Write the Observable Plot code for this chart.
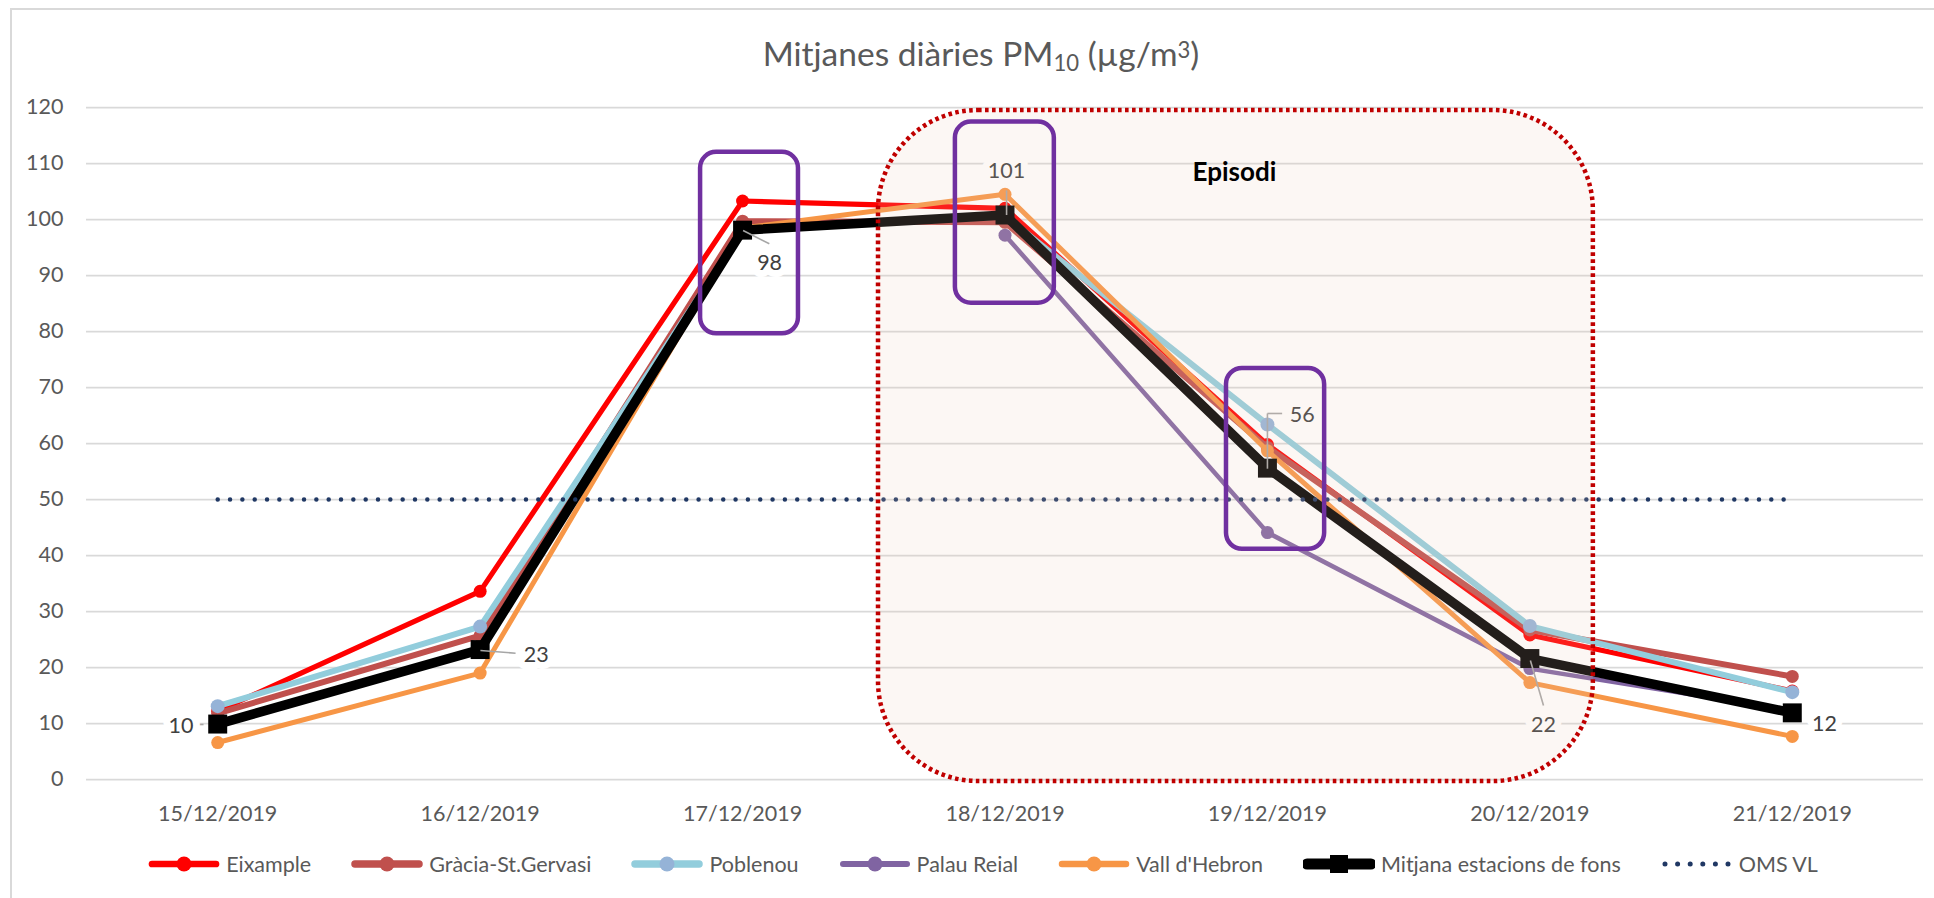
<!DOCTYPE html>
<html>
<head>
<meta charset="utf-8">
<script src="https://cdn.jsdelivr.net/npm/d3@7"></script>
<script src="https://cdn.jsdelivr.net/npm/@observablehq/plot@0.6"></script>
<style>
  html, body { margin: 0; padding: 0; background: #fff; }
  body { width: 1934px; height: 898px; position: relative; overflow: hidden; font-family: Lato, "Open Sans", sans-serif; }
  #frame { position: absolute; left: 10px; top: 8px; width: 1940px; height: 900px; border: 2px solid #d9d9d9; box-sizing: border-box; }
  #title { position: absolute; top: 37px; left: 0; width: 1962px; text-align: center; font-size: 33.5px; line-height: 1; color: #595959; white-space: nowrap; }
  #title .sub { font-size: 0.66em; position: relative; top: 0.24em; line-height: 0; }
  #title .sup { font-size: 0.66em; position: relative; top: -0.34em; line-height: 0; }
  #chart { position: absolute; left: 0; top: 80px; }
  #legend { position: absolute; top: 850px; left: 0; width: 1966px; display: flex; justify-content: center; align-items: center; gap: 40px; font-size: 21.5px; color: #595959; line-height: 28px; }
  .item { display: flex; align-items: center; gap: 6px; white-space: nowrap; }
  .item svg { display: block; }
</style>
</head>
<body>
<div id="frame"></div>
<div id="title">Mitjanes diàries PM<span class="sub">10</span> (µg/m<span class="sup">3</span>)</div>
<div id="chart"></div>
<div id="legend"></div>
<script>
// ---- Data ----
const dates = ["15/12/2019", "16/12/2019", "17/12/2019", "18/12/2019", "19/12/2019", "20/12/2019", "21/12/2019"];
const eixample   = [12.2, 33.6, 103.3, 102.0, 59.8, 25.8, 15.8];
const gracia     = [11.8, 25.7, 99.7, 99.5, 59.3, 26.7, 18.4];
const poblenou   = [13.1, 27.3, 98.0, 100.6, 63.4, 27.4, 15.6];
const palauReial = [null, null, null, 97.2, 44.1, 19.8, 12.3];
const vallHebron = [6.6, 19.0, 98.5, 104.5, 58.7, 17.3, 7.7];
const mitjana    = [9.9, 23.2, 98.1, 100.8, 55.6, 21.6, 11.9];
const omsVL      = [50, 50, 50, 50, 50, 50, 50];
const seriesNames = ["Eixample", "Gràcia-St.Gervasi", "Poblenou", "Palau Reial", "Vall d'Hebron", "Mitjana estacions de fons", "OMS VL"];
const yTicks = [0, 10, 20, 30, 40, 50, 60, 70, 80, 90, 100, 110, 120];
const episodeLabel = "Episodi";

// ---- Styles (kept apart from the data) ----
const series = [
  {name: seriesNames[0], values: eixample,   line: "#ff0000", marker: "#ff0000", width: 5.2, r: 6.5, symbol: "circle"},
  {name: seriesNames[1], values: gracia,     line: "#c0504d", marker: "#c0504d", width: 6,   r: 6.5, symbol: "circle"},
  {name: seriesNames[2], values: poblenou,   line: "#92cddc", marker: "#95b3d7", width: 6,   r: 7,   symbol: "circle"},
  {name: seriesNames[3], values: palauReial, line: "#8064a2", marker: "#8064a2", width: 4.5, r: 6.5, symbol: "circle"},
  {name: seriesNames[4], values: vallHebron, line: "#f79646", marker: "#f79646", width: 5,   r: 6.5, symbol: "circle"},
  {name: seriesNames[5], values: mitjana,    line: "#000000", marker: "#000000", width: 9.5, r: 10.7, symbol: "square"}
];
const oms = {name: seriesNames[6], values: omsVL, line: "#203864", width: 4.5};

const rows = (vals) => vals.map((v, i) => ({i, v}));

// annotation geometry in data units (x = category index, y = µg/m3)
const episode = {x1: 2.518, x2: 5.242, y1: -0.36, y2: 119.46};
const episodeText = {x: 3.874, y: 108.4};
const highlightBoxes = [
  {x1: 1.840, x2: 2.213, y1: 79.6, y2: 112.0},
  {x1: 2.811, x2: 3.188, y1: 85.05, y2: 117.4},
  {x1: 3.844, x2: 4.218, y1: 41.1, y2: 73.4}
];
const labelPos = [
  {x: -0.140, y: 9.46}, {x: 1.214, y: 22.27}, {x: 2.103, y: 92.14}, {x: 3.006, y: 108.6},
  {x: 4.133, y: 65.0}, {x: 5.052, y: 9.64}, {x: 6.123, y: 9.82}
];
const leaders = [
  {x1: -0.098, y1: 9.82, x2: -0.054, y2: 9.82},
  {x1: 1.001, y1: 23.04, x2: 1.135, y2: 22.55},
  {x1: 2.002, y1: 98.04, x2: 2.102, y2: 95.66},
  {x1: 3.006, y1: 100.8, x2: 3.006, y2: 105.2},
  {x1: 4.0, y1: 55.5, x2: 4.0, y2: 65.36},
  {x1: 4.0, y1: 65.36, x2: 4.056, y2: 65.36},
  {x1: 5.002, y1: 21.25, x2: 5.052, y2: 13.21}
];
const labelData = mitjana.map((v, i) => ({...labelPos[i], text: d3.format(".0f")(v)}));

const marks = [
  Plot.ruleY(yTicks, {stroke: "#d9d9d9", strokeWidth: 1.75})
];
for (const s of series) {
  const data = rows(s.values);
  marks.push(Plot.line(data, {x: "i", y: "v", stroke: s.line, strokeWidth: s.width, strokeLinejoin: "round", strokeLinecap: "round"}));
  marks.push(Plot.dot(data, {x: "i", y: "v", r: s.r, symbol: s.symbol, fill: s.marker, stroke: "none"}));
}
marks.push(Plot.line(rows(oms.values), {x: "i", y: "v", stroke: oms.line, strokeWidth: oms.width, strokeDasharray: "0 12.33", strokeLinecap: "round"}));
marks.push(Plot.link(leaders, {x1: "x1", y1: "y1", x2: "x2", y2: "y2", stroke: "#a6a6a6", strokeWidth: 1.6}));
marks.push(Plot.text(labelData, {x: "x", y: "y", text: "text", fill: "#404040", stroke: "white", strokeWidth: 14, strokeLinejoin: "round", fontSize: 21.5}));
marks.push(Plot.rect([episode], {x1: "x1", x2: "x2", y1: "y1", y2: "y2", rx: 100, fill: "#e8c9b4", fillOpacity: 0.15, stroke: "#c00000", strokeWidth: 4.5, strokeDasharray: "3.6 3.4"}));
marks.push(Plot.text([episodeText], {x: "x", y: "y", text: () => episodeLabel, fontWeight: "bold", fill: "#000", fontSize: 26}));
marks.push(Plot.rect(highlightBoxes, {x1: "x1", x2: "x2", y1: "y1", y2: "y2", rx: 16, fill: "none", stroke: "#7030a0", strokeWidth: 4.5}));

const chart = Plot.plot({
  width: 1934,
  height: 770,
  marginLeft: 86,
  marginRight: 11,
  marginTop: 27,
  marginBottom: 71,
  x: {type: "linear", domain: [-0.5, 6.5], ticks: dates.map((d, i) => i), tickFormat: (i) => dates[i], tickSize: 0, tickPadding: 26, label: null},
  y: {domain: [0, 120], ticks: yTicks, tickSize: 0, tickPadding: 23, label: null},
  style: {fontFamily: "Lato, 'Open Sans', sans-serif", fontSize: "21.5px", color: "#595959", background: "transparent", overflow: "visible"},
  marks
});
document.getElementById("chart").append(chart);

// ---- Legend (HTML, below the SVG) ----
function swatch(s) {
  let inner;
  if (s.symbol === undefined) {
    inner = `<line x1="4" x2="68" y1="12" y2="12" stroke="${s.line}" stroke-width="5" stroke-dasharray="0 12.6" stroke-linecap="round"/>`;
  } else {
    const w = s.symbol === "square" ? 11 : Math.max(s.width + 1.5, 5.5);
    inner = `<line x1="4" x2="68" y1="12" y2="12" stroke="${s.line}" stroke-width="${w}" stroke-linecap="round"/>`;
    inner += s.symbol === "square"
      ? `<rect x="27" y="3" width="18" height="18" fill="${s.marker}"/>`
      : `<circle cx="36" cy="12" r="7.5" fill="${s.marker}"/>`;
  }
  return `<svg width="72" height="24" viewBox="0 0 72 24">${inner}</svg>`;
}
const legend = document.getElementById("legend");
for (const s of [...series, oms]) {
  const item = document.createElement("div");
  item.className = "item";
  item.innerHTML = swatch(s) + `<span>${s.name}</span>`;
  legend.append(item);
}
</script>
</body>
</html>
